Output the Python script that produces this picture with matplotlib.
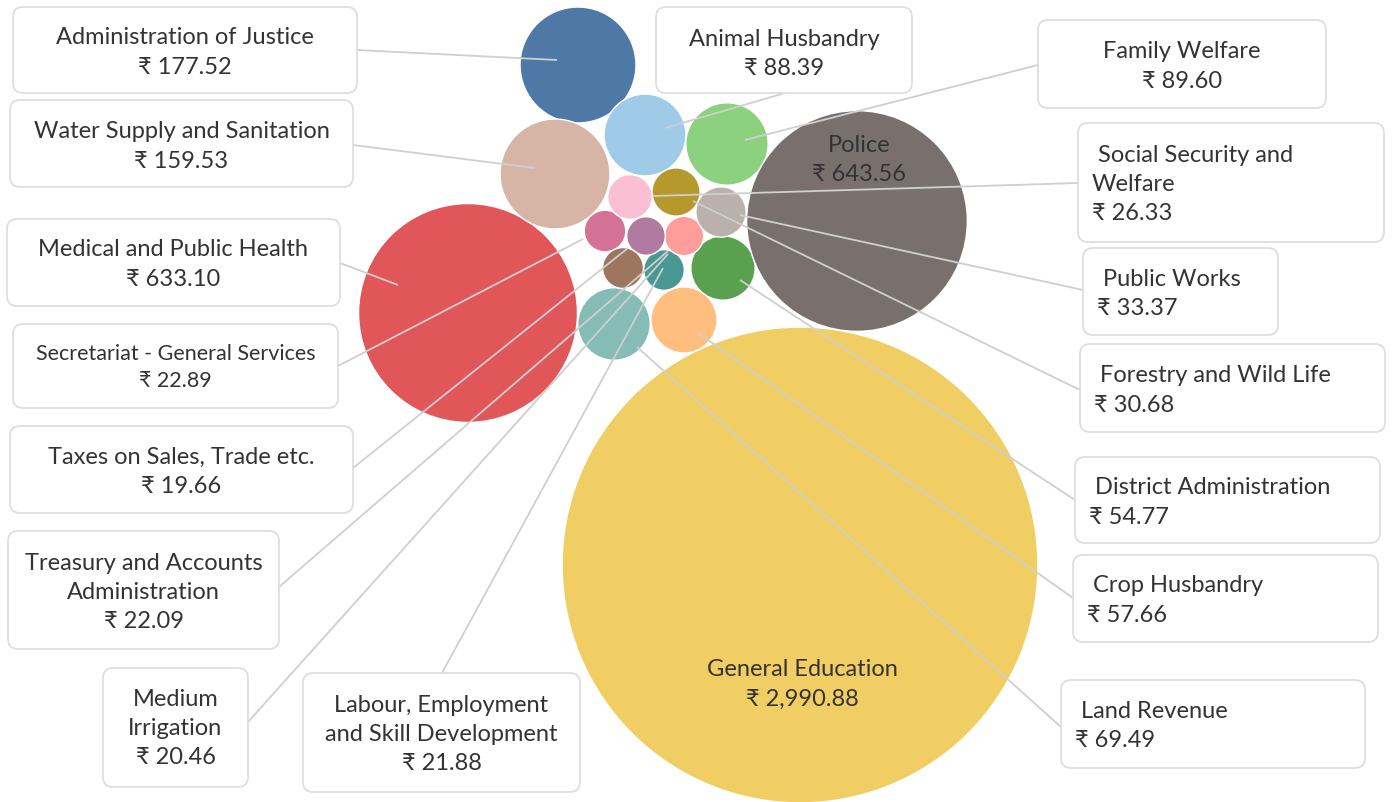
import numpy as np
import matplotlib.pyplot as plt
from matplotlib.patches import Circle, FancyBboxPatch

# ---- data ----
names = ['Administration of Justice', 'Animal Husbandry', 'Crop Husbandry',
         'District Administration', 'Family Welfare', 'Forestry and Wild Life',
         'General Education', 'Labour, Employment and Skill Development',
         'Land Revenue', 'Medical and Public Health', 'Medium Irrigation',
         'Police', 'Public Works', 'Secretariat - General Services',
         'Social Security and Welfare', 'Taxes on Sales, Trade etc.',
         'Treasury and Accounts Administration', 'Water Supply and Sanitation']
values = [177.52, 88.39, 57.66, 54.77, 89.60, 30.68, 2990.88, 21.88, 69.49,
          633.10, 20.46, 643.56, 33.37, 22.89, 26.33, 19.66, 22.09, 159.53]
colors = ['#4E79A7', '#A0CBE8', '#FFBE7D', '#59A14F', '#8CD17D', '#B6992D',
          '#F1CE63', '#499894', '#86BCB6', '#E15759', '#FF9D9A', '#79706E',
          '#BAB0AC', '#D37295', '#FABFD2', '#B07AA1', '#9D7660', '#D7B5A6']

# how each name is wrapped in its label
name_lines = [['Administration of Justice'], ['Animal Husbandry'], [' Crop Husbandry'],
              [' District Administration'], ['Family Welfare'], [' Forestry and Wild Life'],
              ['General Education'], ['Labour, Employment', 'and Skill Development'],
              [' Land Revenue'], ['Medical and Public Health'], ['Medium', 'Irrigation'],
              ['Police'], [' Public Works'], ['Secretariat - General Services'],
              [' Social Security and', 'Welfare'], ['Taxes on Sales, Trade etc.'],
              ['Treasury and Accounts', 'Administration'], ['Water Supply and Sanitation']]

# ---- layout (pixel space, y down) ----
SCALE = 4.35  # px of radius per sqrt(value)
centers = [(578, 65), (645, 135), (684, 320), (723, 268), (727, 144), (676, 192),
           (800, 565), (664, 270), (614, 324), (468, 313), (684, 236), (857, 221),
           (721, 212), (605, 231), (630, 197), (646, 236), (623, 268), (555, 174)]
boxes = [(13, 7, 357, 93), (656, 7, 912, 93), (1073, 555, 1378, 642),
         (1075, 457, 1380, 543), (1038, 20, 1326, 108), (1080, 344, 1385, 432),
         None, (303, 673, 580, 792), (1061, 680, 1365, 768), (7, 219, 340, 306),
         (103, 668, 248, 787), None, (1083, 248, 1278, 335), (13, 324, 338, 408),
         (1078, 123, 1384, 242), (10, 426, 353, 513), (8, 531, 279, 649),
         (10, 100, 353, 187)]
first_y = [38, 39, 586, 488, 52, 376, 670, 705, 711, 250, 699, 145, 279, 354,
           155, 457, 563, 132]
align = ['center', 'center', 'left', 'left', 'center', 'left', 'center', 'center',
         'left', 'center', 'center', 'center', 'left', 'center', 'left', 'center',
         'center', 'center']
fsize = [17] * len(names)
fsize[13] = 15.5
leader_start = [(357, 50), (785, 93), (1073, 598), (1075, 500), (1038, 65), (1080, 390),
                None, (442, 673), (1061, 727), (340, 263), (248, 722), None,
                (1083, 290), (338, 366), (1078, 183), (353, 468), (279, 587), (353, 145)]
leader_end = [(557, 60), (665, 128), (698, 333), (740, 280), (745, 140), (693, 201),
              None, (663, 268), (637, 347), (398, 285), (668, 254), None,
              (740, 215), (583, 239), (653, 196), (628, 248), (668, 251), (535, 168)]

FONT = ['Lato', 'DejaVu Sans']
TXT = '#333333'

fig = plt.figure(figsize=(13.92, 8.02), dpi=100)
ax = fig.add_axes([0, 0, 1, 1])
ax.set_xlim(0, 1392)
ax.set_ylim(802, 0)
ax.set_aspect('equal')
ax.axis('off')

# bubbles
for i, v in enumerate(values):
    r = SCALE * np.sqrt(v)
    ax.add_patch(Circle(centers[i], r, facecolor=colors[i], edgecolor='white',
                        lw=1, zorder=1))

# leader lines
for i in range(len(names)):
    if leader_start[i] is None:
        continue
    (x0, y0), (x1, y1) = leader_start[i], leader_end[i]
    ax.plot([x0, x1], [y0, y1], color='#cfcfcf', lw=1.3, zorder=2,
            solid_capstyle='butt')

# label boxes and texts
for i, v in enumerate(values):
    lines = name_lines[i] + ['₹ {:,.2f}'.format(v)]
    step = 29.5 if i != 13 else 27
    b = boxes[i]
    if b is not None:
        ax.add_patch(FancyBboxPatch((b[0], b[1]), b[2] - b[0], b[3] - b[1],
                                    boxstyle='round,pad=0,rounding_size=10',
                                    facecolor='white', edgecolor='#dedede',
                                    lw=1.3, zorder=3))
        if align[i] == 'center':
            tx, ha = (b[0] + b[2]) / 2, 'center'
        else:
            tx, ha = b[0] + 14, 'left'
    else:
        tx, ha = centers[i][0] + 2, 'center'
    for k, s in enumerate(lines):
        ax.text(tx, first_y[i] + k * step, s, ha=ha, va='center',
                fontsize=fsize[i], color=TXT, family=FONT, zorder=4)

fig.savefig('out.png', dpi=100)
